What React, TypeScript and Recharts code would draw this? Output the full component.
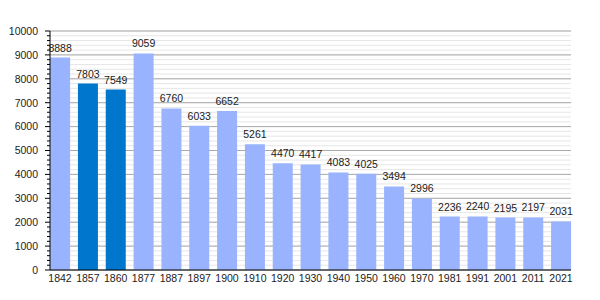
import React from "react";
import { BarChart, Bar, XAxis, YAxis, CartesianGrid, Cell, LabelList } from "recharts";

const years = ["1842","1857","1860","1877","1887","1897","1900","1910","1920","1930","1940","1950","1960","1970","1981","1991","2001","2011","2021"];
const population = [8888,7803,7549,9059,6760,6033,6652,5261,4470,4417,4083,4025,3494,2996,2236,2240,2195,2197,2031];
const highlightedYears = ["1857","1860"];
const majorTicks = [0,1000,2000,3000,4000,5000,6000,7000,8000,9000,10000];
const allTicks = [0,200,400,600,800,1000,1200,1400,1600,1800,2000,2200,2400,2600,2800,3000,3200,3400,3600,3800,4000,4200,4400,4600,4800,5000,5200,5400,5600,5800,6000,6200,6400,6600,6800,7000,7200,7400,7600,7800,8000,8200,8400,8600,8800,9000,9200,9400,9600,9800,10000];
const yMax = 10000;

const data = years.map((y, i) => ({ year: y, value: population[i] }));

const FONT = "'Liberation Sans', Arial, sans-serif";

const YTick = (props: any) => {
  const { x, y, payload } = props;
  const v = payload.value;
  const major = majorTicks.includes(v);
  return (
    <g>
      <line x1={x - (major ? 5 : 3)} x2={x} y1={y} y2={y} stroke="#000" strokeWidth={1} />
      {major && (
        <text x={x - 12} y={y + 3.8} textAnchor="end" fontSize={10.5} fill="#222" fontFamily={FONT}>
          {v}
        </text>
      )}
    </g>
  );
};

const majorGen = (p: any) => {
  const s = p?.yAxis?.scale;
  if (typeof s === "function") return majorTicks.map((v) => s(v));
  const top = p.offset.top;
  const h = p.offset.height;
  return majorTicks.map((v) => top + h * (1 - v / yMax));
};

export default function App() {
  return (
    <BarChart
      width={592}
      height={292}
      data={data}
      margin={{ top: 23, right: 29, bottom: 10, left: 0 }}
    >
      <CartesianGrid vertical={false} stroke="#e6e6e6" />
      <CartesianGrid vertical={false} stroke="#aaaaaa" horizontalCoordinatesGenerator={majorGen} />
      <XAxis
        dataKey="year"
        tickLine={false}
        tickSize={0}
        tickMargin={5}
        height={20}
        padding={{ left: -3.9, right: -3.9 }}
        axisLine={{ stroke: "#000" }}
        tick={{ fontSize: 10.5, fill: "#222", fontFamily: FONT }}
        interval={0}
      />
      <YAxis
        width={42}
        domain={[0, yMax]}
        ticks={allTicks}
        interval={0}
        tickLine={false}
        tickSize={0}
        tickMargin={0}
        axisLine={{ stroke: "#000" }}
        tick={<YTick />}
      />
      <Bar dataKey="value" barSize={20} isAnimationActive={false}>
        {data.map((d) => (
          <Cell key={d.year} fill={highlightedYears.includes(d.year) ? "#0077cc" : "#99b3ff"} />
        ))}
        <LabelList dataKey="value" position="top" offset={6} fontSize={10.5} fill="#222" fontFamily={FONT} />
      </Bar>
    </BarChart>
  );
}
